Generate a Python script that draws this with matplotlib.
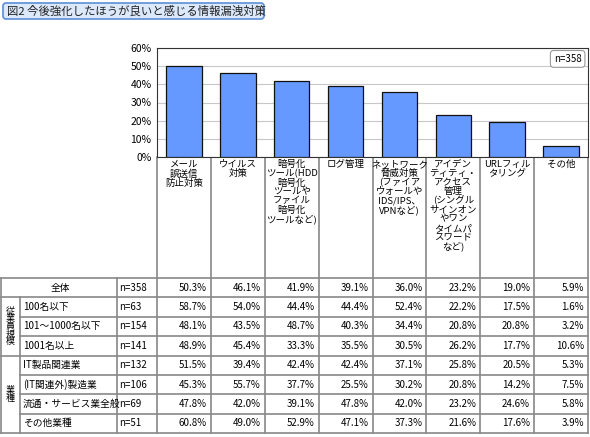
import matplotlib
matplotlib.use("Agg")
import matplotlib.pyplot as plt
from matplotlib.patches import FancyBboxPatch

plt.rcParams['font.family'] = ['Noto Sans CJK JP', 'DejaVu Sans']

title = "図2 今後強化したほうが良いと感じる情報漏洩対策"
categories = ["メール\n誤送信\n防止対策", "ウイルス\n対策", "暗号化\nツール(HDD\n暗号化\nツールや\nファイル\n暗号化\nツールなど)",
              "ログ管理", "ネットワーク\n脅威対策\n(ファイア\nウォールや\nIDS/IPS、\nVPNなど)",
              "アイデン\nティティ・\nアクセス\n管理\n(シングル\nサインオン\nやワン\nタイムパ\nスワード\nなど)",
              "URLフィル\nタリング", "その他"]
overall = [50.3, 46.1, 41.9, 39.1, 36.0, 23.2, 19.0, 5.9]
yticks = [0, 10, 20, 30, 40, 50, 60]

row_labels = ["全体", "100名以下", "101〜1000名以下", "1001名以上",
              "IT製品関連業", "(IT関連外)製造業", "流通・サービス業全般", "その他業種"]
row_n = ["n=358", "n=63", "n=154", "n=141", "n=132", "n=106", "n=69", "n=51"]
groups = [("従\n業\n員\n規\n模", 1, 4), ("業\n種", 4, 8)]
table = [
    [50.3, 46.1, 41.9, 39.1, 36.0, 23.2, 19.0, 5.9],
    [58.7, 54.0, 44.4, 44.4, 52.4, 22.2, 17.5, 1.6],
    [48.1, 43.5, 48.7, 40.3, 34.4, 20.8, 20.8, 3.2],
    [48.9, 45.4, 33.3, 35.5, 30.5, 26.2, 17.7, 10.6],
    [51.5, 39.4, 42.4, 42.4, 37.1, 25.8, 20.5, 5.3],
    [45.3, 55.7, 37.7, 25.5, 30.2, 20.8, 14.2, 7.5],
    [47.8, 42.0, 39.1, 47.8, 42.0, 23.2, 24.6, 5.8],
    [60.8, 49.0, 52.9, 47.1, 37.3, 21.6, 17.6, 3.9],
]

W, H = 590, 437
fig = plt.figure(figsize=(W/100, H/100), dpi=100)
bg = fig.add_axes([0, 0, 1, 1])
bg.set_xlim(0, W); bg.set_ylim(H, 0); bg.axis('off')

# title
bg.add_patch(FancyBboxPatch((3, 3), 261, 16, boxstyle="round,pad=0,rounding_size=3",
                            fc='#dbe9fb', ec='#5b8fd6', lw=1.2))
bg.text(7, 11.5, title, fontsize=8.2, va='center', ha='left', color='#222')

# bar axes
x0, x1, yt, yb = 157, 588, 48, 157
ax = fig.add_axes([x0/W, 1-yb/H, (x1-x0)/W, (yb-yt)/H])
n = len(categories)
ax.bar(range(n), overall, width=0.66, color='#6699ff', edgecolor='#111', lw=0.9, zorder=3)
ax.set_xlim(-0.5, n-0.5); ax.set_ylim(0, 60)
ax.set_yticks(yticks); ax.set_yticklabels([f"{v}%" for v in yticks], fontsize=7.5)
ax.set_xticks([])
ax.grid(axis='y', color='#c8c8c8', lw=0.8, zorder=0)
ax.tick_params(axis='y', length=0, pad=4)
for s in ax.spines.values():
    s.set_color('#333'); s.set_linewidth(0.8)
ax.text(0.985, 0.9, "n=358", transform=ax.transAxes, ha='right', va='center', fontsize=7,
        bbox=dict(boxstyle='round,pad=0.35', fc='white', ec='#999', lw=0.8))

colw = (x1-x0)/n
for i, c in enumerate(categories):
    bg.text(x0 + colw*(i+0.5), 160, c, ha='center', va='top', fontsize=6.8, linespacing=1.0)

# table lines
lc = '#888'
ty0, ty1 = 278, 433
rh = (ty1-ty0)/len(row_labels)
for i in range(n+1):
    bg.plot([x0+colw*i]*2, [yb, ty1], color=lc, lw=1.2)
bg.plot([117, 117], [ty0, ty1], color=lc, lw=1.2)
bg.plot([1, 1], [ty0, ty1], color=lc, lw=1.2)
bg.plot([20, 20], [ty0+rh, ty1], color=lc, lw=1.2)
for r in range(len(row_labels)+1):
    y = ty0 + rh*r
    full = r in (0, 1, 4, 8)
    bg.plot([1 if full else 20, x1], [y, y], color=lc, lw=1.2)

fs = 7
for r, (lab, nn, vals) in enumerate(zip(row_labels, row_n, table)):
    yc = ty0 + rh*(r+0.5)
    if r == 0:
        bg.text(60, yc, lab, ha='center', va='center', fontsize=fs)
    else:
        bg.text(23, yc, lab, ha='left', va='center', fontsize=fs)
    bg.text(119, yc, nn, ha='left', va='center', fontsize=fs)
    for i, v in enumerate(vals):
        bg.text(x0 + colw*(i+1) - 4, yc, f"{v:.1f}%", ha='right', va='center', fontsize=fs)
for g, a, b in groups:
    bg.text(10.5, ty0 + rh*(a+b)/2, g, ha='center', va='center', fontsize=6.5, linespacing=0.8)

fig.savefig("out.png", dpi=100)
